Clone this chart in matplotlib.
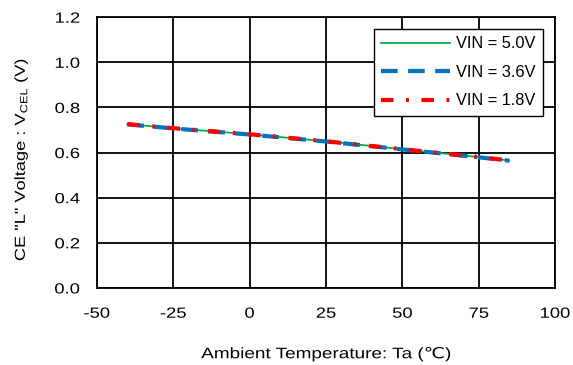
import matplotlib
matplotlib.use("Agg")
import matplotlib.pyplot as plt
from matplotlib.patheffects import AbstractPathEffect
from matplotlib.transforms import Affine2D

plt.rcParams["font.family"] = ["Liberation Sans", "DejaVu Sans"]
plt.rcParams["mathtext.fontset"] = "custom"
plt.rcParams["mathtext.rm"] = "Liberation Sans"

temps = [-40, -25, 0, 25, 50, 75, 85]
vin_5v0 = [0.726, 0.708, 0.681, 0.650, 0.615, 0.580, 0.565]
vin_3v6 = [0.725, 0.707, 0.680, 0.649, 0.614, 0.579, 0.564]
vin_1v8 = [0.726, 0.708, 0.681, 0.650, 0.615, 0.580, 0.565]

x_ticks = [-50, -25, 0, 25, 50, 75, 100]
y_ticks = [0.0, 0.2, 0.4, 0.6, 0.8, 1.0, 1.2]


class Stretch(AbstractPathEffect):
    # widen text along its baseline (the source chart's text is wide)
    def __init__(self, sx, anchor="center"):
        super().__init__()
        self.sx = sx
        self.anchor = anchor

    def draw_path(self, renderer, gc, tpath, affine, rgbFace=None):
        ext = tpath.get_extents()
        if self.anchor == "right":
            cx = ext.x1
        elif self.anchor == "left":
            cx = ext.x0
        else:
            cx = (ext.x0 + ext.x1) / 2
        aff = Affine2D().translate(-cx, 0).scale(self.sx, 1).translate(cx, 0)
        renderer.draw_path(gc, tpath, aff + affine, rgbFace)


def main():
    fig = plt.figure(figsize=(5.73, 3.65), dpi=100)
    ax = fig.add_axes([0.169, 0.211, 0.800, 0.742])

    ax.plot(temps, vin_5v0, color="#00b050", lw=1.3, label="VIN = 5.0V")
    ax.plot(temps, vin_3v6, color="#0070c0", lw=3, ls=(0, (4, 2.5)),
            label="VIN = 3.6V")
    ax.plot(temps, vin_1v8, color="#ff0000", lw=3, ls=(0, (3, 3, 0.7, 3)),
            label="VIN = 1.8V")

    ax.set_xlim(-50, 100)
    ax.set_ylim(0, 1.2)
    ax.set_xticks(x_ticks)
    ax.set_yticks(y_ticks)
    ax.set_xticklabels([str(t) for t in x_ticks])
    ax.set_yticklabels([f"{t:.1f}" for t in y_ticks])
    ax.tick_params(axis="x", length=0, labelsize=10.6, pad=13.5)
    ax.tick_params(axis="y", length=0, labelsize=10.6, pad=12)
    for lbl in ax.get_xticklabels():
        lbl.set_path_effects([Stretch(1.25)])
    for lbl in ax.get_yticklabels():
        lbl.set_path_effects([Stretch(1.25, "right")])

    ax.grid(True, color="black", lw=1.3)
    ax.set_axisbelow(True)
    for sp in ax.spines.values():
        sp.set_color("black")
        sp.set_linewidth(1.3)

    xl = ax.set_xlabel("Ambient Temperature: Ta (\u2103)", fontsize=11,
                       labelpad=19)
    xl.set_path_effects([Stretch(1.24)])
    yl = ax.set_ylabel(r'CE "L" Voltage : V$_{\mathregular{CEL}}$ (V)',
                       fontsize=10.5)
    yl.set_path_effects([Stretch(1.25)])
    ax.yaxis.set_label_coords(-0.146, 0.476)

    leg = ax.legend(loc="upper right", fontsize=11.8, fancybox=False,
                    framealpha=1, edgecolor="black", handlelength=4.2,
                    handletextpad=0.4, borderpad=0.45, labelspacing=0.82,
                    borderaxespad=0, bbox_to_anchor=(0.974, 0.956))
    leg.get_frame().set_linewidth(1.0)

    fig.savefig("out.png", dpi=100)


if __name__ == "__main__":
    main()
